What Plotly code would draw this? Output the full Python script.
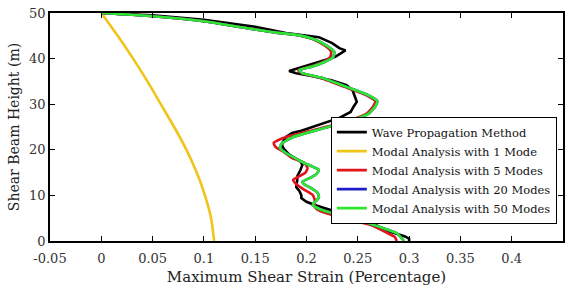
import plotly.graph_objects as go

# Heights (m) and maximum shear strain (%)
wave_y = [50, 49.5, 48.5, 47, 45.6, 45, 44.7, 43.4, 42.3, 41.8, 41, 40.4, 39.5, 38.5, 37.3, 36.8, 36.2, 35.2,
          34.2, 33, 31.5, 30.5, 29.5, 28.3, 27, 25.4, 24.2, 23.7, 22.8, 21.7, 21, 20.2, 19.2, 18.5, 18, 17.5,
          16.7, 15.5, 14.2, 13.4, 11.8, 11, 10, 9.4, 8.6, 7.9, 6.9, 5.7, 5.0, 3.5, 2.5, 1.6, 1, 0.5, 0]
wave_x = [0, 0.05, 0.10, 0.15, 0.18, 0.20, 0.212, 0.225, 0.232, 0.238, 0.233, 0.228, 0.215, 0.200, 0.183, 0.190,
          0.205, 0.225, 0.239, 0.245, 0.247, 0.249, 0.246, 0.243, 0.232, 0.212, 0.195, 0.186, 0.180, 0.177, 0.176,
          0.178, 0.182, 0.186, 0.190, 0.194, 0.196, 0.194, 0.191, 0.191, 0.190, 0.193, 0.195, 0.195, 0.200, 0.208,
          0.222, 0.239, 0.254, 0.268, 0.275, 0.288, 0.296, 0.300, 0.300]

mode1_y = [50, 45, 40, 35, 30, 25, 20, 15, 10, 5, 0]
mode1_x = [0, 0.016, 0.031, 0.045, 0.058, 0.071, 0.083, 0.093, 0.101, 0.107, 0.110]

mode5_y = [50, 49.3, 48.2, 46.4, 45.7, 45.2, 44.2, 42.8, 41.5, 40.3, 39.3, 38.2, 37.5, 36.8, 35.8, 33.8, 32.4,
           31.4, 30.7, 29.5, 28, 26.5, 24.5, 22.8, 21.5, 20.6, 19.5, 18.2, 17.1, 16, 15, 14.2, 13.4, 12.5,
           11.2, 10.1, 9, 7.9, 7.2, 6.5, 5, 3.5, 1.5, 0.9, 0]
mode5_x = [0, 0.05, 0.10, 0.15, 0.17, 0.19, 0.207, 0.218, 0.224, 0.223, 0.216, 0.203, 0.192, 0.195, 0.213,
           0.237, 0.254, 0.263, 0.267, 0.265, 0.259, 0.243, 0.210, 0.180, 0.168, 0.170, 0.178, 0.186, 0.198,
           0.201, 0.199, 0.193, 0.187, 0.190, 0.198, 0.206, 0.208, 0.208, 0.209, 0.214, 0.236, 0.263, 0.281,
           0.286, 0.288]

mode20_y = [50, 49.3, 48.2, 46.4, 45.7, 45.2, 44.2, 42.8, 41.5, 40.3, 39.3, 38.2, 37.5, 36.8, 35.8, 33.8,
            32.4, 31.4, 30.7, 29.5, 28, 26.5, 24.5, 22.8, 21.4, 20.4, 19.3, 18.3, 17.3, 16.3, 15.6, 14.8, 14,
            13, 12.4, 11.8, 10.5, 9.5, 8.5, 7.9, 6.8, 5.3, 4.2, 3.1, 1.7, 0]
mode20_x = [0, 0.05, 0.10, 0.15, 0.17, 0.19, 0.208, 0.220, 0.227, 0.226, 0.218, 0.205, 0.193, 0.196, 0.215,
            0.239, 0.256, 0.265, 0.269, 0.267, 0.261, 0.245, 0.213, 0.187, 0.176, 0.174, 0.180, 0.188, 0.196,
            0.206, 0.212, 0.210, 0.205, 0.196, 0.198, 0.203, 0.211, 0.212, 0.208, 0.206, 0.215, 0.239, 0.256,
            0.271, 0.288, 0.295]

mode50_y = mode20_y
mode50_x = mode20_x

series_names = ["Wave Propagation Method", "Modal Analysis with 1 Mode", "Modal Analysis with 5 Modes",
                "Modal Analysis with 20 Modes", "Modal Analysis with 50 Modes"]

tick_vals = [-0.05, 0, 0.05, 0.1, 0.15, 0.2, 0.25, 0.3, 0.35, 0.4]
tick_text = ["-0.05", "0", "0.05", "0.1", "0.15", "0.2", "0.25", "0.3", "0.35", "0.4"]

FONT = "DejaVu Serif"

fig = go.Figure()
series = [
    (wave_x, wave_y, "#000000", "linear"),
    (mode1_x, mode1_y, "#F0C419", "spline"),
    (mode5_x, mode5_y, "#E3141B", "spline"),
    (mode20_x, mode20_y, "#1C1CC8", "spline"),
    (mode50_x, mode50_y, "#2EE62E", "spline"),
]
for name, (xs, ys, col, shape) in zip(series_names, series):
    line = dict(color=col, width=2.6, shape=shape)
    if shape == "spline":
        line["smoothing"] = 0.5
    fig.add_trace(go.Scatter(x=xs, y=ys, mode="lines", line=line, name=name))

fig.update_layout(
    width=568, height=290,
    margin=dict(l=50, r=5, t=13, b=49),
    paper_bgcolor="white", plot_bgcolor="white",
    font=dict(family=FONT, color="#222222", size=13),
    showlegend=True,
    legend=dict(
        x=0.988, y=0.311, xanchor="right", yanchor="middle",
        bgcolor="white", bordercolor="#000000", borderwidth=1,
        font=dict(family=FONT, size=11.5, color="#111111"),
        tracegroupgap=0, itemwidth=30,
    ),
    xaxis=dict(
        range=[-0.05, 0.45], tickvals=tick_vals, ticktext=tick_text,
        showgrid=False, zeroline=False, automargin=False,
        showline=True, linecolor="#000000", linewidth=1.5, mirror="ticks",
        ticks="inside", ticklen=5, tickcolor="#000000", tickwidth=1.2,
        ticklabelstandoff=5,
        tickfont=dict(family=FONT, size=13, color="#333333"),
        title=dict(text="Maximum Shear Strain (Percentage)",
                   font=dict(family=FONT, size=15, color="#222222"), standoff=6),
    ),
    yaxis=dict(
        range=[0, 50], dtick=10,
        showgrid=False, zeroline=False, automargin=False,
        showline=True, linecolor="#000000", linewidth=1.5, mirror="ticks",
        ticks="inside", ticklen=5, tickcolor="#000000", tickwidth=1.2,
        tickfont=dict(family=FONT, size=13, color="#333333"),
        title=dict(text="Shear Beam Height (m)",
                   font=dict(family=FONT, size=14, color="#222222"), standoff=6),
    ),
)

fig.write_html("out.html", config={"displayModeBar": False},
               post_script="document.body.style.margin='0';")
